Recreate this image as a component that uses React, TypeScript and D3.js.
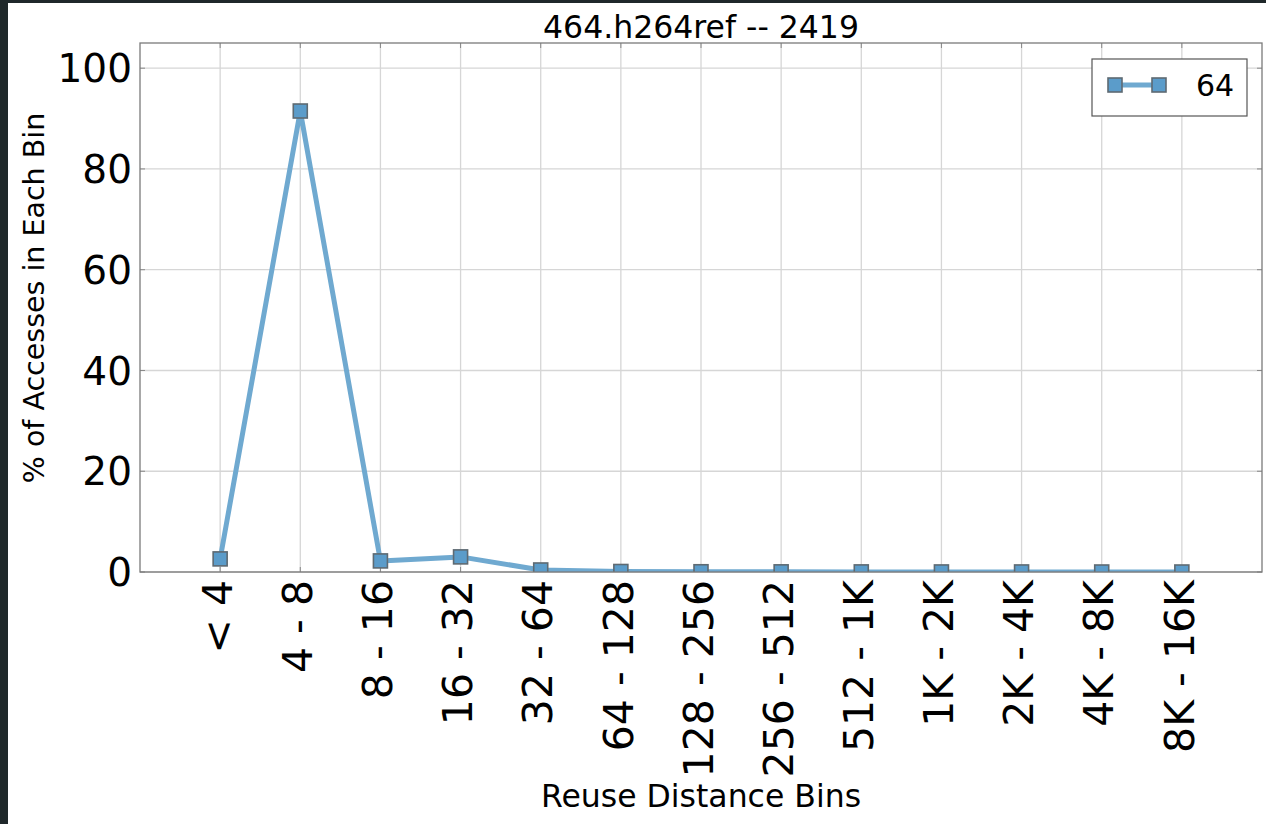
import React from "react";
import * as d3 from "d3";

const categories = ["< 4", "4 - 8", "8 - 16", "16 - 32", "32 - 64", "64 - 128", "128 - 256", "256 - 512", "512 - 1K", "1K - 2K", "2K - 4K", "4K - 8K", "8K - 16K"];
const values64 = [2.6, 91.5, 2.2, 3.0, 0.4, 0.1, 0.05, 0.03, 0.02, 0.01, 0.01, 0.0, 0.0];
const yTicks = [0, 20, 40, 60, 80, 100];
const seriesName = "64";
const title = "464.h264ref -- 2419";
const xLabel = "Reuse Distance Bins";
const yLabel = "% of Accesses in Each Bin";

const W = 1266, H = 824;
const M = { left: 140, right: 1262, top: 43, bottom: 572 };
const FONT = "'DejaVu Sans', sans-serif";
const LINE = "#6fa9d0";
const MFILL = "#5b9cca";
const MEDGE = "#5e6a72";

export default function App() {
  const x = d3.scaleLinear().domain([-1, categories.length]).range([M.left, M.right]);
  const y = d3.scaleLinear().domain([0, 105]).range([M.bottom, M.top]);
  const line = d3.line<number>().x((_, i) => x(i)).y(d => y(d));
  const ms = 14;
  return (
    <svg width={W} height={H} style={{ position: "fixed", left: 0, top: 0, background: "#fff" }} fontFamily={FONT}>
      <defs>
        <clipPath id="plotclip">
          <rect x={M.left} y={M.top} width={M.right - M.left} height={M.bottom - M.top} />
        </clipPath>
      </defs>
      <rect x={0} y={0} width={W} height={H} fill="#fff" />
      <rect x={0} y={0} width={8} height={H} fill="#1f282a" />
      <rect x={0} y={0} width={W} height={3} fill="#1f282a" />
      {/* grid */}
      {yTicks.map(t => (
        <line key={"gy" + t} x1={M.left} x2={M.right} y1={y(t)} y2={y(t)} stroke="#d6d6d6" strokeWidth={1.3} />
      ))}
      {categories.map((c, i) => (
        <line key={"gx" + i} x1={x(i)} x2={x(i)} y1={M.top} y2={M.bottom} stroke="#d6d6d6" strokeWidth={1.3} />
      ))}
      {/* ticks */}
      {categories.map((c, i) => (
        <g key={"tk" + i}>
          <line x1={x(i)} x2={x(i)} y1={M.bottom} y2={M.bottom - 5} stroke="#888" strokeWidth={1} />
          <line x1={x(i)} x2={x(i)} y1={M.top} y2={M.top + 5} stroke="#888" strokeWidth={1} />
        </g>
      ))}
      {yTicks.map(t => (
        <g key={"ty" + t}>
          <line x1={M.left} x2={M.left + 5} y1={y(t)} y2={y(t)} stroke="#888" strokeWidth={1} />
          <line x1={M.right} x2={M.right - 5} y1={y(t)} y2={y(t)} stroke="#888" strokeWidth={1} />
        </g>
      ))}
      {/* series */}
      <g clipPath="url(#plotclip)">
        <path d={line(values64) || ""} fill="none" stroke={LINE} strokeWidth={5} strokeLinejoin="round" />
        {values64.map((v, i) => (
          <rect key={"m" + i} x={x(i) - ms / 2} y={y(v) - ms / 2} width={ms} height={ms} fill={MFILL} stroke={MEDGE} strokeWidth={1.6} />
        ))}
      </g>
      {/* frame */}
      <rect x={M.left} y={M.top} width={M.right - M.left} height={M.bottom - M.top} fill="none" stroke="#7a7a7a" strokeWidth={1.3} />
      {/* y tick labels */}
      {yTicks.map(t => (
        <text key={"yl" + t} x={M.left - 8} y={y(t)} dy="0.36em" textAnchor="end" fontSize={39} fill="#000">{t}</text>
      ))}
      {/* x tick labels */}
      {categories.map((c, i) => (
        <text key={"xl" + i} transform={`translate(${x(i) - 3},${M.bottom + 8}) rotate(-90)`} dy="0.36em" textAnchor="end" fontSize={41} fill="#000">{c}</text>
      ))}
      {/* titles */}
      <text x={(M.left + M.right) / 2} y={38} textAnchor="middle" fontSize={31.5} fill="#000">{title}</text>
      <text x={(M.left + M.right) / 2} y={807} textAnchor="middle" fontSize={31.5} fill="#000">{xLabel}</text>
      <text transform={`translate(44,298) rotate(-90)`} textAnchor="middle" fontSize={28.5} fill="#000">{yLabel}</text>
      {/* legend */}
      <g>
        <rect x={1092} y={59} width={155} height={57} fill="#fff" stroke="#555" strokeWidth={1.2} />
        <line x1={1115} x2={1159} y1={85} y2={85} stroke={LINE} strokeWidth={5} />
        <rect x={1115 - ms / 2} y={85 - ms / 2} width={ms} height={ms} fill={MFILL} stroke={MEDGE} strokeWidth={1.6} />
        <rect x={1159 - ms / 2} y={85 - ms / 2} width={ms} height={ms} fill={MFILL} stroke={MEDGE} strokeWidth={1.6} />
        <text x={1196} y={85} dy="0.36em" fontSize={30} fill="#000">{seriesName}</text>
      </g>
    </svg>
  );
}
